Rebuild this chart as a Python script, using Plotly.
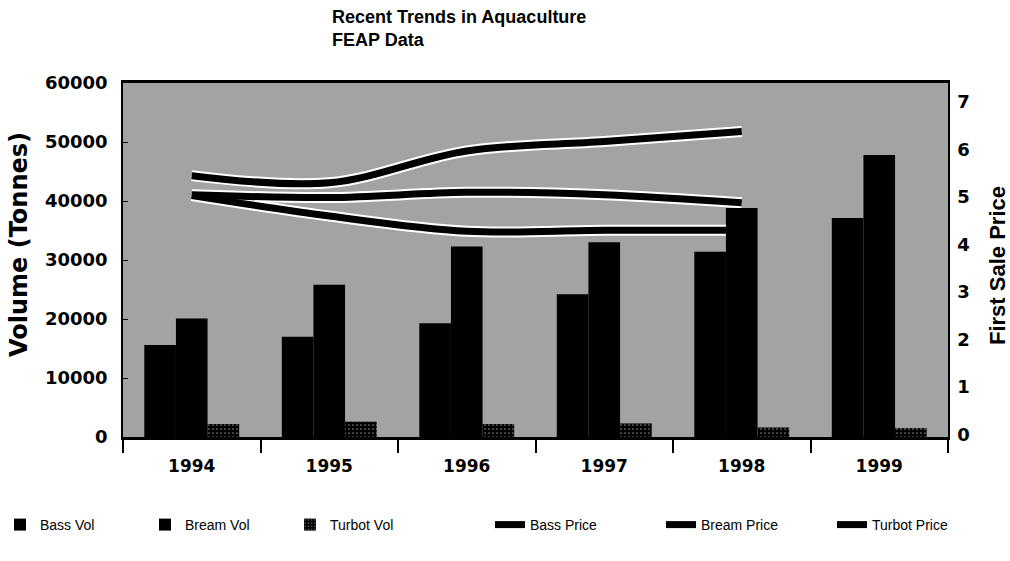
import plotly.graph_objects as go

# FEAP aquaculture data
years = ["1994", "1995", "1996", "1997", "1998", "1999"]
bass_vol = [15600, 17000, 19300, 24200, 31400, 37100]
bream_vol = [20100, 25800, 32300, 33000, 38800, 47800]
turbot_vol = [2200, 2600, 2200, 2300, 1600, 1500]

price_years = ["1994", "1995", "1996", "1997", "1998"]
bass_price = [5.45, 5.30, 5.97, 6.17, 6.38]
bream_price = [5.05, 4.99, 5.10, 5.05, 4.88]
turbot_price = [5.03, 4.60, 4.28, 4.30, 4.30]

vol_ticks = [0, 10000, 20000, 30000, 40000, 50000, 60000]
price_ticks = [0, 1, 2, 3, 4, 5, 6, 7]

TICK_FONT = dict(family="DejaVu Sans", size=18, color="black", weight="bold")
BOLD = "Liberation Sans"
LEGEND_FONT = dict(family="Liberation Sans", size=14, color="black")
LEGEND_Y = 1 - 525 / 561

fig = go.Figure()

# price lines (drawn on the base subplot so the bars sit above them)
for name, vals in [("Bass Price", bass_price), ("Bream Price", bream_price),
                   ("Turbot Price", turbot_price)]:
    fig.add_trace(go.Scatter(
        x=price_years, y=vals, mode="lines", showlegend=False,
        line=dict(color="white", width=11, shape="spline", smoothing=1.0),
        hoverinfo="skip", yaxis="y"))
for name, vals in [("Bass Price", bass_price), ("Bream Price", bream_price),
                   ("Turbot Price", turbot_price)]:
    fig.add_trace(go.Scatter(
        x=price_years, y=vals, mode="lines", name=name, legend="legend2",
        line=dict(color="black", width=7, shape="spline", smoothing=1.0),
        yaxis="y"))

# volume bars
fig.add_trace(go.Bar(x=years, y=bass_vol, name="Bass Vol", yaxis="y2",
                     marker=dict(color="black", line=dict(width=0))))
fig.add_trace(go.Bar(x=years, y=bream_vol, name="Bream Vol", yaxis="y2",
                     marker=dict(color="black", line=dict(width=0))))
fig.add_trace(go.Bar(x=years, y=turbot_vol, name="Turbot Vol", yaxis="y2",
                     marker=dict(color="black", line=dict(width=0),
                                 pattern=dict(shape=".", fgcolor="white",
                                              bgcolor="black", size=4,
                                              solidity=0.15))))

fig.update_layout(
    width=1010, height=561,
    margin=dict(l=123, r=62, t=83, b=124),
    paper_bgcolor="white",
    plot_bgcolor="#a3a3a3",
    barmode="group", bargap=0.31, bargroupgap=0.0,
    font=dict(family=BOLD, color="black"),
    xaxis=dict(type="category", showgrid=False, showline=True, linecolor="black",
               linewidth=2.5, mirror=True, ticks="outside", tickson="boundaries",
               ticklen=13, tickwidth=1.5, tickcolor="black",
               tickfont=dict(family="DejaVu Sans", size=17, color="black",
                             weight="bold"),
               ticklabelstandoff=12),
    yaxis=dict(side="right", range=[-0.05, 7.4], tickvals=price_ticks,
               showgrid=False, zeroline=False, showline=True, linecolor="black",
               linewidth=1.5, ticks="", tickfont=TICK_FONT, ticklabelstandoff=4),
    yaxis2=dict(side="left", overlaying="y", range=[0, 60000], tickvals=vol_ticks,
                tickformat="d",
                showgrid=False, zeroline=False, showline=True, linecolor="black",
                linewidth=1.5, ticks="inside", ticklen=5, tickcolor="black",
                tickfont=TICK_FONT, ticklabelstandoff=10),
    legend=dict(orientation="h", xref="container", yref="container",
                x=0, xanchor="left", y=LEGEND_Y, yanchor="middle",
                entrywidth=100, entrywidthmode="pixels", traceorder="normal",
                font=LEGEND_FONT, bgcolor="rgba(0,0,0,0)"),
    legend2=dict(orientation="h", xref="container", yref="container",
                 x=490 / 1010, xanchor="left", y=LEGEND_Y, yanchor="middle",
                 entrywidth=126, entrywidthmode="pixels", traceorder="normal",
                 font=LEGEND_FONT, bgcolor="rgba(0,0,0,0)"),
    annotations=[
        dict(text="<b>Recent Trends in Aquaculture<br>FEAP Data</b>",
             xref="paper", yref="paper", x=(330 - 123) / 825, xanchor="left",
             y=(437 - 5) / 354, yanchor="top", align="left", showarrow=False,
             font=dict(family=BOLD, size=18, color="black")),
        dict(text="<b>Volume (Tonnes)</b>", textangle=-90, xref="paper", yref="paper",
             x=(19 - 123) / 825, y=(437 - 245) / 354, xanchor="center",
             yanchor="middle", showarrow=False,
             font=dict(family="DejaVu Sans", size=24, color="black")),
        dict(text="<b>First Sale Price</b>", textangle=-90, xref="paper", yref="paper",
             x=(997 - 123) / 825, y=(437 - 266) / 354, xanchor="center",
             yanchor="middle", showarrow=False,
             font=dict(family=BOLD, size=22, color="black")),
    ],
)

fig.write_html("out.html")
